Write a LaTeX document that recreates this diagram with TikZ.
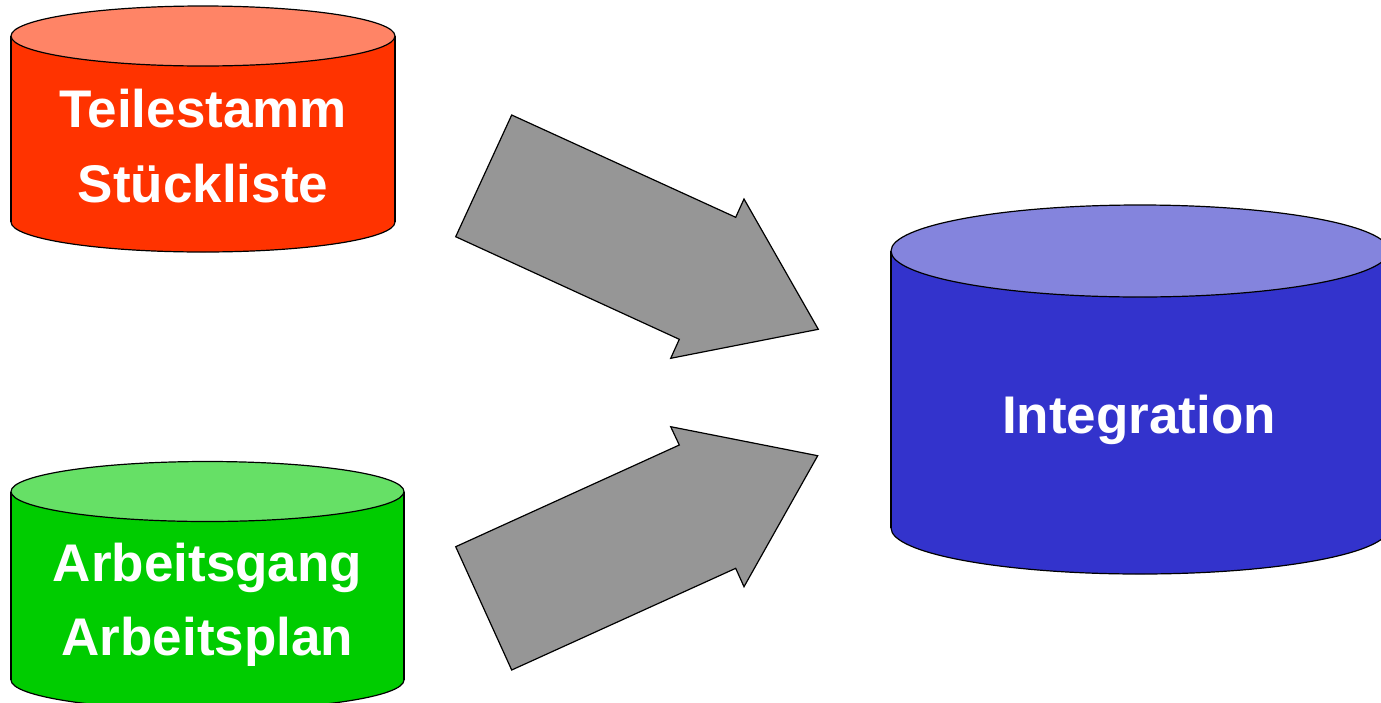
\documentclass[tikz,border=0pt]{standalone}
\usepackage{fontspec}
\setmainfont{Liberation Sans}

\begin{document}
\begin{tikzpicture}[x=1pt,y=-1pt,line width=1.2pt,
 dblabel/.style={text=white,font=\fontsize{53}{53}\selectfont\bfseries,
 anchor=base,inner sep=0pt}]

\definecolor{rotkoerper}{RGB}{255,51,0}
\definecolor{rotdeckel}{RGB}{255,132,102}
\definecolor{gruenkoerper}{RGB}{0,204,0}
\definecolor{gruendeckel}{RGB}{102,224,102}
\definecolor{blaukoerper}{RGB}{51,51,204}
\definecolor{blaudeckel}{RGB}{132,132,221}
\definecolor{pfeilgrau}{RGB}{150,150,150}

\useasboundingbox (0,0) rectangle (1381,702);

% #1 center x, #2 top y, #3 bottom y, #4 x radius, #5 y radius, #6 body, #7 lid
\def\datenbank#1#2#3#4#5#6#7{%
 \filldraw[fill=#6] (#1,#3) ellipse [x radius=#4,y radius=#5];
 \fill[#6] (#1-#4,#2) rectangle (#1+#4,#3);
 \draw (#1-#4,#2) -- (#1-#4,#3) (#1+#4,#2) -- (#1+#4,#3);
 \filldraw[fill=#7] (#1,#2) ellipse [x radius=#4,y radius=#5];}

\datenbank{203}{36}{222}{192}{30}{rotkoerper}{rotdeckel}
\datenbank{207.5}{491.5}{680}{196.5}{30}{gruenkoerper}{gruendeckel}
\datenbank{1140}{251}{528}{249}{46}{blaukoerper}{blaudeckel}

\node[dblabel] (teilestamm) at (203,127) {Teilestamm};
\node[dblabel] (stueckliste) at (203,202) {Stückliste};
\node[dblabel] (arbeitsgang) at (207.5,581) {Arbeitsgang};
\node[dblabel] (arbeitsplan) at (207.5,655) {Arbeitsplan};
\node[dblabel] (integration) at (1139,433) {Integration};

% Blockpfeile
\filldraw[fill=pfeilgrau,line join=miter] (511.7,115) -- (735.7,217.3) -- (744,199)
 -- (818.3,329.3) -- (670.7,358.3) -- (679.3,339.3) -- (455.7,236.7) -- cycle;
\filldraw[fill=pfeilgrau,line join=miter] (455.7,546.7) -- (679.3,445) -- (670.7,426.7)
 -- (817.7,455.7) -- (744,586.7) -- (735.7,568.3) -- (511.7,670) -- cycle;

\end{tikzpicture}
\end{document}
